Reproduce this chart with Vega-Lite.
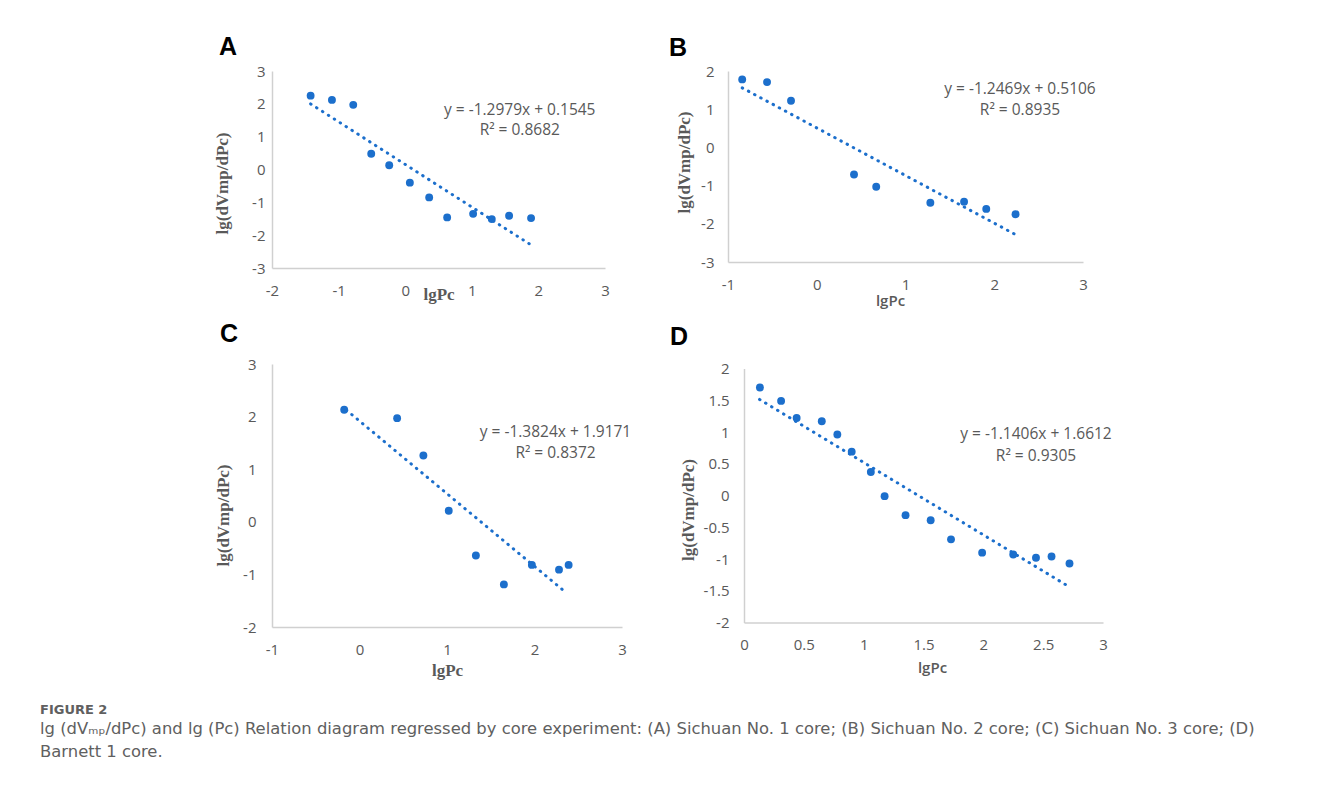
{
  "$schema": "https://vega.github.io/schema/vega-lite/v6.json",
  "background": "white",
  "padding": {"left": 40, "top": 35, "right": 10, "bottom": 5},
  "config": {
    "view": {"stroke": null},
    "axis": {
      "domainColor": "#d0d0d0",
      "domainWidth": 1.5,
      "ticks": false,
      "grid": false,
      "labelFont": "Open Sans",
      "labelFontSize": 15,
      "labelColor": "#595959",
      "labelFlush": false,
      "labelOverlap": false,
      "labelExpr": "'' + datum.value",
      "tickCount": 20,
      "titleColor": "#595959",
      "titleFont": "Liberation Serif",
      "titleFontSize": 17,
      "titleFontWeight": "bold"
    },
    "axisX": {"labelPadding": 15},
    "title": {"font": "Liberation Sans", "fontSize": 25, "fontWeight": "bold", "color": "#000000", "anchor": "start", "frame": "group"}
  },
  "datasets": {
    "pointsA": [
      {"x": -1.42, "y": 2.25}, {"x": -1.10, "y": 2.12}, {"x": -0.78, "y": 1.97},
      {"x": -0.51, "y": 0.48}, {"x": -0.24, "y": 0.13}, {"x": 0.07, "y": -0.40},
      {"x": 0.36, "y": -0.85}, {"x": 0.63, "y": -1.46}, {"x": 1.02, "y": -1.35},
      {"x": 1.30, "y": -1.51}, {"x": 1.56, "y": -1.41}, {"x": 1.89, "y": -1.48}
    ],
    "trendA": [{"x": -1.42, "y": 1.998}, {"x": 1.90, "y": -2.312}],
    "pointsB": [
      {"x": -0.84, "y": 1.78}, {"x": -0.56, "y": 1.71}, {"x": -0.29, "y": 1.22},
      {"x": 0.42, "y": -0.71}, {"x": 0.67, "y": -1.03}, {"x": 1.28, "y": -1.45},
      {"x": 1.66, "y": -1.42}, {"x": 1.91, "y": -1.61}, {"x": 2.24, "y": -1.75}
    ],
    "trendB": [{"x": -0.84, "y": 1.558}, {"x": 2.24, "y": -2.282}],
    "pointsC": [
      {"x": -0.175, "y": 2.13}, {"x": 0.43, "y": 1.97}, {"x": 0.73, "y": 1.26},
      {"x": 1.02, "y": 0.21}, {"x": 1.33, "y": -0.64}, {"x": 1.65, "y": -1.19},
      {"x": 1.97, "y": -0.82}, {"x": 2.28, "y": -0.91}, {"x": 2.39, "y": -0.82}
    ],
    "trendC": [{"x": -0.15, "y": 2.124}, {"x": 2.36, "y": -1.345}],
    "pointsD": [
      {"x": 0.133, "y": 1.70}, {"x": 0.31, "y": 1.49}, {"x": 0.44, "y": 1.22},
      {"x": 0.65, "y": 1.17}, {"x": 0.78, "y": 0.96}, {"x": 0.90, "y": 0.69},
      {"x": 1.06, "y": 0.37}, {"x": 1.175, "y": -0.01}, {"x": 1.35, "y": -0.31},
      {"x": 1.56, "y": -0.39}, {"x": 1.73, "y": -0.69}, {"x": 1.99, "y": -0.90},
      {"x": 2.25, "y": -0.93}, {"x": 2.44, "y": -0.98}, {"x": 2.57, "y": -0.96},
      {"x": 2.72, "y": -1.07}
    ],
    "trendD": [{"x": 0.13, "y": 1.513}, {"x": 2.72, "y": -1.441}]
  },
  "title": {
    "text": "FIGURE 2",
    "subtitle": [
      "lg (dVₘₚ/dPc) and lg (Pc) Relation diagram regressed by core experiment: (A) Sichuan No. 1 core; (B) Sichuan No. 2 core; (C) Sichuan No. 3 core; (D)",
      "Barnett 1 core."
    ],
    "orient": "bottom",
    "anchor": "start",
    "frame": "group",
    "dx": -232,
    "offset": 26,
    "font": "DejaVu Sans",
    "fontSize": 13,
    "fontWeight": "bold",
    "color": "#606060",
    "subtitleFont": "DejaVu Sans",
    "subtitleFontSize": 16.4,
    "subtitleColor": "#606060",
    "subtitleLineHeight": 23,
    "subtitlePadding": 4
  },
  "spacing": 14,
  "vconcat": [
    {
      "bounds": "flush",
      "spacing": 123,
      "hconcat": [
        {
          "width": 333,
          "height": 197,
          "title": {"text": "A", "dx": -53, "offset": 4},
          "layer": [
            {
              "data": {"name": "pointsA"},
              "mark": {"type": "circle", "size": 62, "color": "#1c6fcc", "opacity": 1},
              "encoding": {
                "x": {"field": "x", "type": "quantitative", "scale": {"domain": [-2, 3], "nice": false},
                      "axis": {"values": [-2, -1, 0, 1, 2, 3], "labelOverlap": false, "title": "lgPc", "titlePadding": -12}},
                "y": {"field": "y", "type": "quantitative", "scale": {"domain": [-3, 3], "nice": false},
                      "axis": {"values": [-3, -2, -1, 0, 1, 2, 3], "labelOverlap": false, "tickCount": 20, "title": "lg(dVmp/dPc)", "labelPadding": 7, "titlePadding": 20, "titleY": 112}}
              }
            },
            {
              "data": {"name": "trendA"},
              "mark": {"type": "line", "color": "#1c6fcc", "strokeWidth": 3, "strokeCap": "round", "strokeDash": [0.5, 6.5]},
              "encoding": {"x": {"field": "x", "type": "quantitative"}, "y": {"field": "y", "type": "quantitative"}}
            },
            {
              "data": {"values": [{}]},
              "mark": {"type": "text", "font": "Open Sans", "fontSize": 15.5, "color": "#595959", "align": "center", "baseline": "middle", "lineHeight": 20},
              "encoding": {"x": {"datum": 1.72}, "y": {"datum": 1.81}, "text": {"value": ["y = -1.2979x + 0.1545", "R² = 0.8682"]}}
            }
          ]
        },
        {
          "width": 355,
          "height": 191,
          "title": {"text": "B", "dx": -59, "offset": 3},
          "layer": [
            {
              "data": {"name": "pointsB"},
              "mark": {"type": "circle", "size": 62, "color": "#1c6fcc", "opacity": 1},
              "encoding": {
                "x": {"field": "x", "type": "quantitative", "scale": {"domain": [-1, 3], "nice": false},
                      "axis": {"values": [-1, 0, 1, 2, 3], "labelOverlap": false, "title": "lgPc", "titleFont": "Open Sans", "titleFontSize": 15, "titleFontWeight": 600, "titlePadding": 1, "titleX": 162}},
                "y": {"field": "y", "type": "quantitative", "scale": {"domain": [-3, 2], "nice": false},
                      "axis": {"values": [-3, -2, -1, 0, 1, 2], "labelOverlap": false, "tickCount": 20, "title": "lg(dVmp/dPc)", "labelPadding": 14, "titlePadding": 7, "titleY": 91}}
              }
            },
            {
              "data": {"name": "trendB"},
              "mark": {"type": "line", "color": "#1c6fcc", "strokeWidth": 3, "strokeCap": "round", "strokeDash": [0.5, 6.5]},
              "encoding": {"x": {"field": "x", "type": "quantitative"}, "y": {"field": "y", "type": "quantitative"}}
            },
            {
              "data": {"values": [{}]},
              "mark": {"type": "text", "font": "Open Sans", "fontSize": 15.5, "color": "#595959", "align": "center", "baseline": "middle", "lineHeight": 21},
              "encoding": {"x": {"datum": 2.29}, "y": {"datum": 1.52}, "text": {"value": ["y = -1.2469x + 0.5106", "R² = 0.8935"]}}
            }
          ]
        }
      ]
    },
    {
      "bounds": "flush",
      "spacing": 122,
      "center": true,
      "hconcat": [
        {
          "width": 350,
          "height": 263,
          "title": {"text": "C", "dx": -52, "offset": 10},
          "layer": [
            {
              "data": {"name": "pointsC"},
              "mark": {"type": "circle", "size": 62, "color": "#1c6fcc", "opacity": 1},
              "encoding": {
                "x": {"field": "x", "type": "quantitative", "scale": {"domain": [-1, 3], "nice": false},
                      "axis": {"values": [-1, 0, 1, 2, 3], "labelOverlap": false, "title": "lgPc", "titlePadding": 5}},
                "y": {"field": "y", "type": "quantitative", "scale": {"domain": [-2, 3], "nice": false},
                      "axis": {"values": [-2, -1, 0, 1, 2, 3], "labelOverlap": false, "tickCount": 20, "title": "lg(dVmp/dPc)", "labelPadding": 16, "titlePadding": 10, "titleY": 151}}
              }
            },
            {
              "data": {"name": "trendC"},
              "mark": {"type": "line", "color": "#1c6fcc", "strokeWidth": 3, "strokeCap": "round", "strokeDash": [0.5, 6.5]},
              "encoding": {"x": {"field": "x", "type": "quantitative"}, "y": {"field": "y", "type": "quantitative"}}
            },
            {
              "data": {"values": [{}]},
              "mark": {"type": "text", "font": "Open Sans", "fontSize": 15.5, "color": "#595959", "align": "center", "baseline": "middle", "lineHeight": 21},
              "encoding": {"x": {"datum": 2.24}, "y": {"datum": 1.71}, "text": {"value": ["y = -1.3824x + 1.9171", "R² = 0.8372"]}}
            }
          ]
        },
        {
          "width": 359,
          "height": 254,
          "title": {"text": "D", "dx": -74, "offset": 12},
          "layer": [
            {
              "data": {"name": "pointsD"},
              "mark": {"type": "circle", "size": 62, "color": "#1c6fcc", "opacity": 1},
              "encoding": {
                "x": {"field": "x", "type": "quantitative", "scale": {"domain": [0, 3], "nice": false},
                      "axis": {"values": [0, 0.5, 1, 1.5, 2, 2.5, 3], "labelOverlap": false, "title": "lgPc", "titleFont": "Open Sans", "titleFontSize": 15, "titleFontWeight": 600, "titlePadding": 8, "titleX": 188}},
                "y": {"field": "y", "type": "quantitative", "scale": {"domain": [-2, 2], "nice": false},
                      "axis": {"values": [-2, -1.5, -1, -0.5, 0, 0.5, 1, 1.5, 2], "labelOverlap": false, "tickCount": 20, "title": "lg(dVmp/dPc)", "labelPadding": 15, "titlePadding": 6, "titleY": 141}}
              }
            },
            {
              "data": {"name": "trendD"},
              "mark": {"type": "line", "color": "#1c6fcc", "strokeWidth": 3, "strokeCap": "round", "strokeDash": [0.5, 6.5]},
              "encoding": {"x": {"field": "x", "type": "quantitative"}, "y": {"field": "y", "type": "quantitative"}}
            },
            {
              "data": {"values": [{}]},
              "mark": {"type": "text", "font": "Open Sans", "fontSize": 15.5, "color": "#595959", "align": "center", "baseline": "middle", "lineHeight": 22},
              "encoding": {"x": {"datum": 2.44}, "y": {"datum": 0.97}, "text": {"value": ["y = -1.1406x + 1.6612", "R² = 0.9305"]}}
            }
          ]
        }
      ]
    }
  ]
}
